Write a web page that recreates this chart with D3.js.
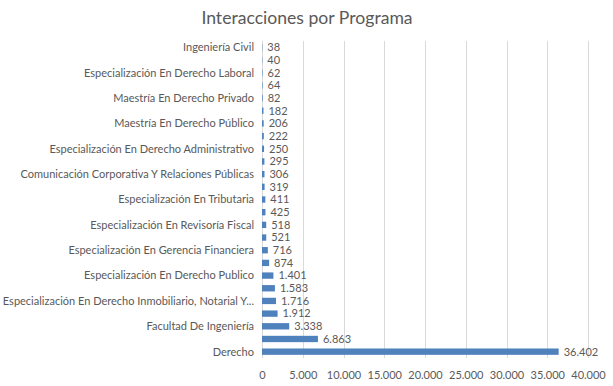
<!DOCTYPE html>
<html>
    <head>
        <meta charset="utf-8">
        <title>Interacciones por Programa</title>
        <script src="https://d3js.org/d3.v7.min.js"></script>
        <style>
            body { margin: 0; background: #fff; }
            text { font-family: Lato, "Open Sans", sans-serif; fill: #595959; }
        </style>
    </head>
    <body>
        <script>
            // Programas (de arriba hacia abajo); los vacíos no tienen etiqueta visible en el original
            var programas = [
                "Ingeniería Civil", "",
                "Especialización En Derecho Laboral", "",
                "Maestría En Derecho Privado", "",
                "Maestría En Derecho Público", "",
                "Especialización En Derecho Administrativo", "",
                "Comunicación Corporativa Y Relaciones Públicas", "",
                "Especialización En Tributaria", "",
                "Especialización En Revisoría Fiscal", "",
                "Especialización En Gerencia Financiera", "",
                "Especialización En Derecho Publico", "",
                "Especialización En Derecho Inmobiliario, Notarial Y...", "",
                "Facultad De Ingeniería", "",
                "Derecho"
            ];
            var interacciones = [38, 40, 62, 64, 82, 182, 206, 222, 250, 295, 306, 319, 411, 425,
                518, 521, 716, 874, 1401, 1583, 1716, 1912, 3338, 6863, 36402];
            var ticks = [0, 5000, 10000, 15000, 20000, 25000, 30000, 35000, 40000];

            var W = 613, H = 386;
            var mLeft = 262, mRight = 588, mTop = 41, mBottom = 358;

            var svg = d3.select("body").append("svg")
                .attr("width", W).attr("height", H);

            var fmt = d3.formatLocale({decimal: ",", thousands: ".", grouping: [3], currency: ["$", ""]}).format(",d");

            var x = d3.scaleLinear().domain([0, 40000]).range([mLeft, mRight]);
            var y = d3.scaleBand().domain(d3.range(programas.length)).range([mTop, mBottom]).paddingInner(0.5).paddingOuter(0.25);

            // título
            svg.append("text")
                .attr("x", 307).attr("y", 24)
                .attr("text-anchor", "middle")
                .style("font-size", "17.6px")
                .text("Interacciones por Programa");

            // líneas de cuadrícula
            svg.selectAll("line.grid").data(ticks).enter().append("line")
                .attr("class", "grid")
                .attr("x1", function(d) { return Math.round(x(d)) + 0.5; })
                .attr("x2", function(d) { return Math.round(x(d)) + 0.5; })
                .attr("y1", mTop).attr("y2", mBottom)
                .attr("stroke", "#d9d9d9").attr("stroke-width", 1);

            // eje x
            var ax = svg.append("g").attr("transform", "translate(0," + mBottom + ")")
                .call(d3.axisBottom(x).tickValues(ticks).tickSize(0).tickPadding(13).tickFormat(fmt));
            ax.select(".domain").remove();
            ax.selectAll("text").style("font-size", "11px").style("font-family", "Lato, sans-serif").attr("fill", "#595959");

            // barras
            svg.selectAll("rect.bar").data(interacciones).enter().append("rect")
                .attr("class", "bar")
                .attr("x", x(0))
                .attr("y", function(d, i) { return y(i); })
                .attr("width", function(d) { return x(d) - x(0); })
                .attr("height", y.bandwidth())
                .attr("fill", "#4f81bd");

            // valores
            svg.selectAll("text.val").data(interacciones).enter().append("text")
                .attr("class", "val")
                .attr("x", function(d) { return x(d) + 5; })
                .attr("y", function(d, i) { return y(i) + y.bandwidth() / 2; })
                .attr("dy", "0.35em")
                .style("font-size", "11px")
                .text(function(d) { return fmt(d); });

            // etiquetas de categoría
            svg.selectAll("text.cat").data(programas).enter().append("text")
                .attr("class", "cat")
                .attr("x", 254)
                .attr("y", function(d, i) { return y(i) + y.bandwidth() / 2; })
                .attr("dy", "0.35em")
                .attr("text-anchor", "end")
                .style("font-size", "11px")
                .text(function(d) { return d; });
        </script>
    </body>
</html>
